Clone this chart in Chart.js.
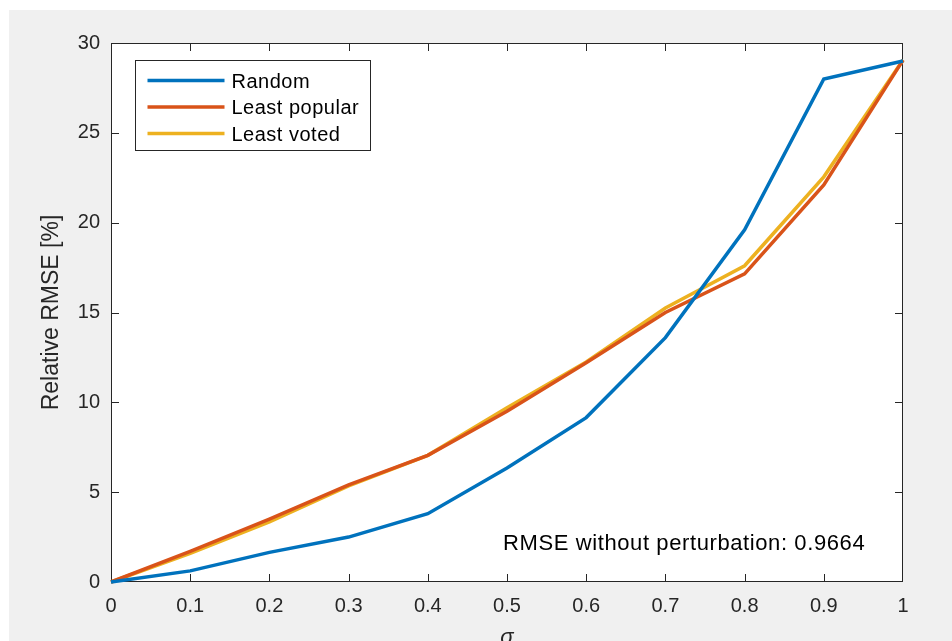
<!DOCTYPE html>
<html>
<head>
<meta charset="utf-8">
<script src="https://cdn.jsdelivr.net/npm/chart.js@4"></script>
<style>
    html, body { margin: 0; padding: 0; background: #fff; }
    canvas { display: block; }
</style>
</head>
<body>
<canvas id="rmseChart" width="952" height="641"></canvas>
<script>
// perturbation level and relative RMSE [%] per strategy
const sigma = [0, 0.1, 0.2, 0.3, 0.4, 0.5, 0.6, 0.7, 0.8, 0.9, 1]
const randomRmse = [0, 0.62, 1.65, 2.5, 3.8, 6.35, 9.15, 13.6, 19.6, 28.0, 29.0]
const leastPopularRmse = [0, 1.7, 3.5, 5.4, 7.05, 9.5, 12.2, 15.0, 17.15, 22.1, 29.05]
const leastVotedRmse = [0, 1.6, 3.35, 5.35, 7.05, 9.7, 12.25, 15.25, 17.6, 22.55, 29.05]
const seriesLabels = ['Random', 'Least popular', 'Least voted']
const seriesColors = ['#0072BD', '#D95319', '#EDB120']
const rmseBaseline = 0.9664
const notePosition = { x: 0.495, y: 2.1 }

const axisColor = '#262626'
const fontFamily = "'Liberation Sans', Arial, sans-serif"

function toPoints(values) {
    return sigma.map((s, i) => ({ x: s, y: values[i] }))
}

// figure background, axes box with inward ticks, legend and note text
const matlabAxes = {
    id: 'matlabAxes',
    beforeDraw(chart) {
        const { ctx, chartArea: a, width, height } = chart
        ctx.save()
        ctx.fillStyle = '#ffffff'
        ctx.fillRect(0, 0, width, height)
        ctx.fillStyle = '#f0f0f0'
        ctx.fillRect(9, 10, width - 9, height - 10)
        ctx.fillStyle = '#ffffff'
        ctx.fillRect(a.left, a.top, a.right - a.left, a.bottom - a.top)
        ctx.restore()
    },
    beforeDatasetsDraw(chart) {
        const { ctx, chartArea: a, scales } = chart
        const len = 8
        const clampX = (v) => Math.min(Math.max(v, a.left + 0.5), a.right - 0.5)
        const clampY = (v) => Math.min(Math.max(v, a.top + 0.5), a.bottom - 0.5)
        ctx.save()
        ctx.strokeStyle = axisColor
        ctx.lineWidth = 1
        ctx.beginPath()
        scales.x.ticks.forEach((t) => {
            const px = clampX(Math.round(scales.x.getPixelForValue(t.value)) + 0.5)
            ctx.moveTo(px, a.bottom)
            ctx.lineTo(px, a.bottom - len)
            ctx.moveTo(px, a.top)
            ctx.lineTo(px, a.top + len)
        })
        scales.y.ticks.forEach((t) => {
            const py = clampY(Math.round(scales.y.getPixelForValue(t.value)) + 0.5)
            ctx.moveTo(a.left, py)
            ctx.lineTo(a.left + len, py)
            ctx.moveTo(a.right, py)
            ctx.lineTo(a.right - len, py)
        })
        ctx.stroke()
        ctx.strokeRect(a.left + 0.5, a.top + 0.5, a.right - a.left - 1, a.bottom - a.top - 1)
        ctx.restore()
    },
    afterDatasetsDraw(chart) {
        const { ctx, chartArea: a, scales } = chart
        ctx.save()

        // legend box in the upper left corner
        const box = { x: a.left + 24.5, y: a.top + 17.5, w: 235, h: 90 }
        ctx.fillStyle = '#ffffff'
        ctx.fillRect(box.x, box.y, box.w, box.h)
        ctx.strokeStyle = axisColor
        ctx.lineWidth = 1
        ctx.strokeRect(box.x, box.y, box.w, box.h)
        ctx.font = '20px ' + fontFamily
        ctx.letterSpacing = '0.5px'
        ctx.textBaseline = 'middle'
        ctx.textAlign = 'left'
        chart.data.datasets.forEach((ds, i) => {
            const y = box.y + 20 + i * 26.5
            ctx.strokeStyle = ds.borderColor
            ctx.lineWidth = 3.5
            ctx.beginPath()
            ctx.moveTo(box.x + 12, y)
            ctx.lineTo(box.x + 89, y)
            ctx.stroke()
            ctx.fillStyle = '#000000'
            ctx.fillText(ds.label, box.x + 96, y + 1.5)
        })

        // note about the unperturbed error
        ctx.font = '22px ' + fontFamily
        ctx.letterSpacing = '0.6px'
        ctx.fillStyle = '#000000'
        ctx.fillText('RMSE without perturbation: ' + rmseBaseline,
            scales.x.getPixelForValue(notePosition.x),
            scales.y.getPixelForValue(notePosition.y))
        ctx.restore()
    },
}

const ctx = document.getElementById('rmseChart').getContext('2d')
const chart = new Chart(ctx, {
    type: 'line',
    data: {
        datasets: [randomRmse, leastPopularRmse, leastVotedRmse].map((values, i) => ({
            label: seriesLabels[i],
            data: toPoints(values),
            borderColor: seriesColors[i],
            backgroundColor: seriesColors[i],
            borderWidth: 3.5,
            pointRadius: 0,
            tension: 0,
            clip: false,
        })),
    },
    options: {
        responsive: false,
        animation: false,
        devicePixelRatio: 1,
        layout: { padding: { top: 43, right: 49, left: 0, bottom: 0 } },
        plugins: {
            legend: { display: false },
            tooltip: { enabled: false },
        },
        scales: {
            x: {
                type: 'linear',
                min: 0,
                max: 1,
                border: { display: false },
                grid: { display: false, drawTicks: false },
                ticks: {
                    stepSize: 0.1,
                    padding: 12,
                    autoSkip: false,
                    maxRotation: 0,
                    color: axisColor,
                    font: { family: fontFamily, size: 20 },
                    callback: (value) => String(Number(value.toFixed(1))),
                },
                title: {
                    display: true,
                    text: 'σ',
                    color: axisColor,
                    font: { family: fontFamily, size: 22, style: 'italic' },
                    padding: { top: 0, bottom: -10 },
                },
                afterFit(scale) { scale.height = 59 },
            },
            y: {
                min: 0,
                max: 30,
                border: { display: false },
                grid: { display: false, drawTicks: false },
                ticks: {
                    stepSize: 5,
                    padding: 11,
                    color: axisColor,
                    font: { family: fontFamily, size: 20 },
                },
                title: {
                    display: true,
                    text: 'Relative RMSE [%]',
                    color: axisColor,
                    font: { family: fontFamily, size: 23 },
                    padding: { top: 38, bottom: 0 },
                },
                afterFit(scale) { scale.width = 111 },
            },
        },
    },
    plugins: [matlabAxes],
})
</script>
</body>
</html>
